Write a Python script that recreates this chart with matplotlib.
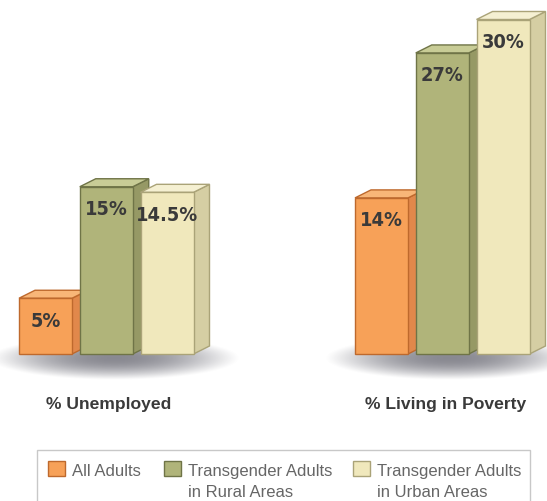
import numpy as np
import matplotlib
matplotlib.use("Agg")
import matplotlib.pyplot as plt
from matplotlib.patches import Polygon, Rectangle
from matplotlib import font_manager as fm

# ---- data ----
categories = ["% Unemployed", "% Living in Poverty"]
series = ["All Adults", "Transgender Adults\nin Rural Areas", "Transgender Adults\nin Urban Areas"]
all_adults = [5, 14]
rural = [15, 27]
urban = [14.5, 30]
value_labels = [["5%", "15%", "14.5%"], ["14%", "27%", "30%"]]

# ---- style ----
front = ["#F7A158", "#B0B47A", "#F0E8BC"]
side = ["#E1884B", "#969965", "#D5CEA3"]
top = ["#F8B678", "#C8CC96", "#F5F0D2"]
edge = ["#BE692D", "#6F7447", "#AAA378"]

# pick a condensed bold face for the value labels if one exists
names = {f.name for f in fm.fontManager.ttflist}
cond = [f for f in fm.fontManager.ttflist
        if ("Condensed" in f.fname or "Narrow" in f.fname or f.stretch in ("condensed", "semi-condensed"))
        and f.weight in ("bold", 700)]
if "Liberation Sans Narrow" in names:
    val_font = dict(family=["Liberation Sans Narrow", "DejaVu Sans"], fontsize=15)
elif cond:
    val_font = dict(fontproperties=fm.FontProperties(fname=cond[0].fname, size=14.3))
else:
    val_font = dict(family=["Liberation Sans", "DejaVu Sans"], fontsize=13)

W, H = 547, 502
PX = 11.15          # pixels per percent
BASE = 355          # pixel row of the zero line
group_left = [19, 355]
pitch = 60.75
bar_w = 53
dx = 16
dy = 8 / PX

fig = plt.figure(figsize=(W / 100, H / 100), dpi=100)
ax = fig.add_axes([0, 0, 1, 1])
ax.set_xlim(0, W)
ax.set_ylim(-(H - BASE) / PX, BASE / PX)
ax.axis("off")

# shadows
def shadow(cx, cy, a, b):
    nx, ny = 300, 100
    xs = np.linspace(-1, 1, nx)
    ys = np.linspace(-1, 1, ny)
    X, Y = np.meshgrid(xs, ys)
    r2 = X ** 2 + Y ** 2
    alpha = np.clip(1 - r2, 0, 1) ** 1.2 * 0.8
    img = np.zeros((ny, nx, 4))
    img[..., 0] = 0.42
    img[..., 1] = 0.42
    img[..., 2] = 0.46
    img[..., 3] = alpha
    ax.imshow(img, extent=[cx - a, cx + a, cy - b / PX, cy + b / PX],
              aspect="auto", zorder=1, interpolation="bilinear")

for g in range(2):
    cx = group_left[g] + (2 * pitch + bar_w + dx) / 2
    shadow(cx, -4 / PX, 125, 22)

values = [all_adults, rural, urban]
z = 2
for g in range(2):
    for s in range(3):
        v = values[s][g]
        x0 = group_left[g] + s * pitch
        x1 = x0 + bar_w
        sp = Polygon([(x1, 0), (x1 + dx, dy), (x1 + dx, v + dy), (x1, v)],
                     closed=True, facecolor=side[s], edgecolor=edge[s], lw=1, zorder=z)
        ax.add_patch(sp)
        tp = Polygon([(x0, v), (x0 + dx, v + dy), (x1 + dx, v + dy), (x1, v)],
                     closed=True, facecolor=top[s], edgecolor=edge[s], lw=1, zorder=z)
        ax.add_patch(tp)
        ax.bar(x0, v, width=bar_w, align="edge", color=front[s], edgecolor=edge[s],
               linewidth=1, zorder=z + 0.5)
        ax.text(x0 + bar_w / 2, v - 22 / PX, value_labels[g][s], ha="center", va="center",
                fontweight="bold", color="#3a3a3a", zorder=z + 0.6, **val_font)
        z += 1

cat_x = [109, 446]
for g in range(2):
    ax.text(cat_x[g], (BASE - 404) / PX, categories[g], ha="center", va="center",
            fontsize=12.6, fontweight="bold", color="#3a3a3a",
            family=["Liberation Sans", "DejaVu Sans"])

# legend (manual, pixel coordinates)
lax = fig.add_axes([0, 0, 1, 1])
lax.set_xlim(0, W)
lax.set_ylim(H, 0)
lax.axis("off")
lax.add_patch(Rectangle((37, 451), 493, 70, facecolor="white", edgecolor="#c8c8c8", lw=1))
leg_x = [48, 164, 353]
for s in range(3):
    lax.add_patch(Rectangle((leg_x[s], 462), 17, 15, facecolor=front[s], edgecolor=edge[s], lw=1))
    lines = series[s].split("\n")
    for i, line in enumerate(lines):
        lax.text(leg_x[s] + 24, 476 + i * 21, line, ha="left", va="baseline",
                 fontsize=12, color="#666666", family=["Liberation Sans", "DejaVu Sans"])

fig.savefig("out.png", dpi=100)
